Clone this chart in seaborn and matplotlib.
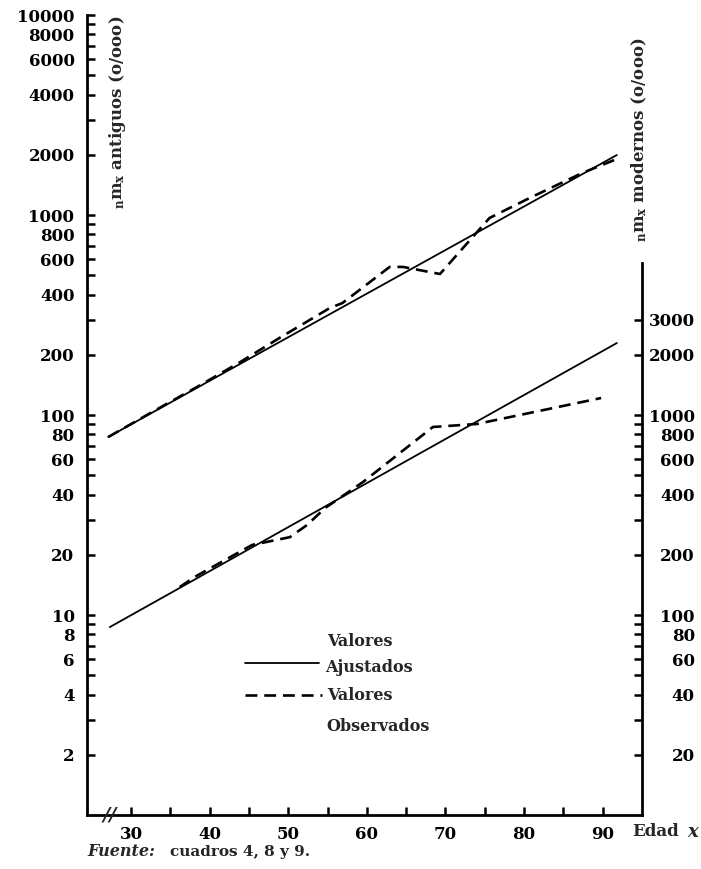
import numpy as np
import pandas as pd
import matplotlib
matplotlib.use("Agg")
import matplotlib.pyplot as plt
import seaborn as sns

# Tasas de mortalidad por edad (por diez mil, o/ooo)
# Serie antigua (eje izquierdo)
edad_ajuste_antiguos = [27.1, 91.8]
antiguos_ajustados = [77.6, 1995]
edad_obs_antiguos = [27.1, 32.4, 38.8, 43.9, 48.9, 55.3, 56.9, 62.9, 64.6,
                     69.3, 75.6, 80.7, 87.4, 91.8]
antiguos_observados = [77.6, 102, 141, 184, 243, 343, 363, 550, 550,
                       507, 966, 1216, 1622, 1905]

# Serie moderna (eje derecho)
edad_ajuste_modernos = [27.3, 91.8]
modernos_ajustados = [87, 2290]
edad_obs_modernos = [36.2, 38.1, 45.4, 50.2, 52.4, 54.7, 59.5, 68.4, 74.0, 89.8]
modernos_observados = [138, 155, 224, 245, 282, 343, 462, 871, 902, 1216]

# Etiquetas de los ejes
edad_etiquetas = [30, 40, 50, 60, 70, 80, 90]
edad_marcas_menores = [35, 45, 55, 65, 75, 85]
izq_etiquetas = [2, 4, 6, 8, 10, 20, 40, 60, 80, 100, 200, 400, 600, 800,
                 1000, 2000, 4000, 6000, 8000, 10000]
der_etiquetas = [20, 40, 60, 80, 100, 200, 400, 600, 800, 1000, 2000, 3000]

sns.set_theme(style="ticks")
plt.rcParams["font.family"] = ["DejaVu Serif"]
plt.rcParams["font.weight"] = "bold"
plt.rcParams["mathtext.fontset"] = "dejavuserif"
plt.rcParams["mathtext.default"] = "bf"

W, H = 701, 869
fig = plt.figure(figsize=(W / 100, H / 100), dpi=100)
fig.patch.set_facecolor("white")
ax = fig.add_axes([87 / W, 54 / H, 555 / W, 800 / H])
ax.set_facecolor("white")
ax2 = ax.twinx()

ax.set_yscale("log")
ax2.set_yscale("log")
ax.set_xlim(24.4, 95.0)
ax.set_ylim(1, 10000)
ax2.set_ylim(10, 100000)

lw_fit = 1.3
lw_obs = 1.9
dash = (0, (4.5, 2.6))

ant_fit = pd.DataFrame({"edad": edad_ajuste_antiguos, "tasa": antiguos_ajustados})
ant_obs = pd.DataFrame({"edad": edad_obs_antiguos, "tasa": antiguos_observados})
mod_fit = pd.DataFrame({"edad": edad_ajuste_modernos, "tasa": modernos_ajustados})
mod_obs = pd.DataFrame({"edad": edad_obs_modernos, "tasa": modernos_observados})

sns.lineplot(data=ant_fit, x="edad", y="tasa", ax=ax, color="black",
             linewidth=lw_fit, estimator=None)
sns.lineplot(data=ant_obs, x="edad", y="tasa", ax=ax, color="black",
             linewidth=lw_obs, linestyle=dash, estimator=None)
sns.lineplot(data=mod_fit, x="edad", y="tasa", ax=ax2, color="black",
             linewidth=lw_fit, estimator=None)
sns.lineplot(data=mod_obs, x="edad", y="tasa", ax=ax2, color="black",
             linewidth=lw_obs, linestyle=dash, estimator=None)

for a in (ax, ax2):
    a.set_xlabel("")
    a.set_ylabel("")
    a.grid(False)

# Spines
ax.spines["top"].set_visible(False)
ax.spines["right"].set_visible(False)
ax2.spines["top"].set_visible(False)
ax2.spines["left"].set_visible(False)
ax2.spines["bottom"].set_visible(False)
for s in (ax.spines["left"], ax.spines["bottom"], ax2.spines["right"]):
    s.set_linewidth(2.0)
    s.set_color("black")
ax2.spines["right"].set_bounds(10, 5750)

tick_font = dict(fontsize=12, fontweight="bold", family="DejaVu Serif")

# Left axis ticks: every 2..9 multiple of each decade
izq_marcas = [k * 10 ** d for d in range(4) for k in range(1, 10)][1:] + [10000]
ax.set_yticks(izq_marcas)
ax.set_yticklabels([str(v) if v in izq_etiquetas else "" for v in izq_marcas], **tick_font)
ax.yaxis.set_minor_locator(matplotlib.ticker.NullLocator())
ax.tick_params(axis="y", which="major", direction="in", length=6, width=1.8,
               pad=9, colors="black")

# Right axis ticks
der_marcas = [k * 10 ** d for d in range(1, 3) for k in range(1, 10)][1:] + [1000, 2000, 3000]
ax2.set_yticks(der_marcas)
ax2.set_yticklabels([str(v) if v in der_etiquetas else "" for v in der_marcas], **tick_font)
ax2.yaxis.set_minor_locator(matplotlib.ticker.NullLocator())
ax2.tick_params(axis="y", which="major", direction="in", length=6, width=1.8,
                pad=38, colors="black")
for t in ax2.get_yticklabels():
    t.set_horizontalalignment("right")

# Bottom axis ticks
ax.set_xticks(edad_etiquetas)
ax.set_xticklabels([str(v) for v in edad_etiquetas], **tick_font)
ax.set_xticks(edad_marcas_menores, minor=True)
ax.tick_params(axis="x", which="both", direction="in", length=6, width=1.8,
               pad=8, colors="black")

# Axis titles
fig.text(117 / W, 1 - 112 / H, r"${}_{n}m_{x}$ antiguos (o/ooo)", rotation=90,
         ha="center", va="center", fontsize=12, fontweight="bold")
fig.text(639 / W, 1 - 140 / H, r"${}_{n}m_{x}$ modernos (o/ooo)", rotation=90,
         ha="center", va="center", fontsize=12, fontweight="bold")
fig.text(632 / W, 1 - 832 / H, "Edad", ha="left", va="center", fontsize=12,
         fontweight="bold")
fig.text(687 / W, 1 - 832 / H, "x", ha="left", va="center", fontsize=13,
         fontweight="bold", fontstyle="italic")

# Axis break mark
fig.text(110 / W, 1 - 816 / H, "//", ha="center", va="center", fontsize=14,
         fontweight="bold", fontstyle="italic")

# Source note
fig.text(87 / W, 1 - 852 / H, "Fuente:", ha="left", va="center", fontsize=11.5,
         fontweight="bold", fontstyle="italic")
fig.text(170 / W, 1 - 852 / H, "cuadros 4, 8 y 9.", ha="left", va="center",
         fontsize=11, fontweight="bold")

# Key
key_font = dict(fontsize=11.5, fontweight="bold", transform=ax.transAxes,
                ha="left", va="center")
ax.plot([0.285, 0.418], [0.190, 0.190], color="black", linewidth=lw_fit,
        transform=ax.transAxes)
ax.text(0.432, 0.217, "Valores", **key_font)
ax.text(0.429, 0.184, "Ajustados", **key_font)
ax.plot([0.285, 0.423], [0.150, 0.150], color="black", linewidth=lw_obs,
        linestyle=dash, transform=ax.transAxes)
ax.text(0.432, 0.150, "Valores", **key_font)
ax.text(0.432, 0.111, "Observados", **key_font)

fig.savefig("out.png", dpi=100, facecolor="white")
